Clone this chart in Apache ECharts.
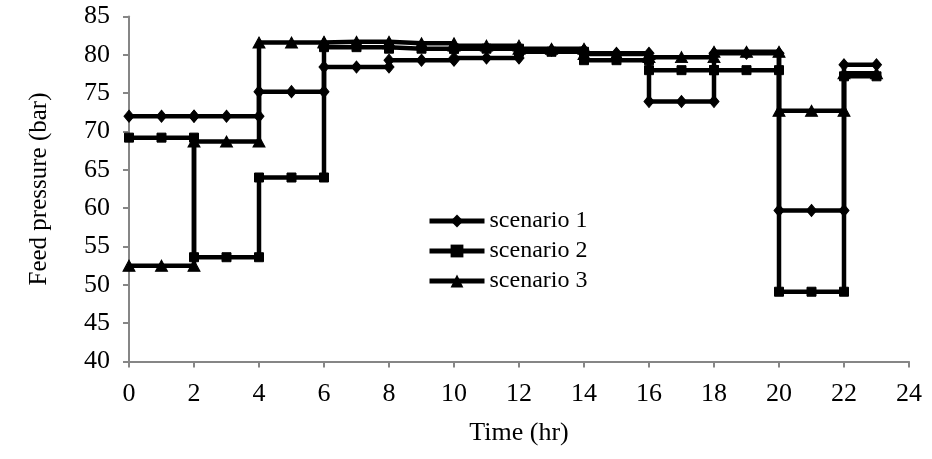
<!DOCTYPE html>
<html>
<head>
<meta charset="utf-8">
<script src="https://cdn.jsdelivr.net/npm/echarts@6/dist/echarts.min.js"></script>
<style>
  html, body { margin: 0; padding: 0; background: #fff; }
  #chart { width: 932px; height: 459px; }
</style>
</head>
<body>
<div id="chart"></div>
<script>
// Feed pressure held constant over 2-hour blocks; the last block runs 22-23 h.
const blockStart = [0, 2, 4, 6, 8, 10, 12, 14, 16, 18, 20, 22];
const endHour = 23;
const scenario1 = [72.0, 72.0, 75.2, 78.4, 79.3, 79.6, 80.6, 80.2, 73.9, 80.2, 59.7, 78.7];
const scenario2 = [69.2, 53.6, 64.0, 81.0, 80.8, 80.8, 80.4, 79.3, 78.0, 78.0, 49.1, 77.2];
const scenario3 = [52.5, 68.7, 81.6, 81.7, 81.5, 81.2, 80.8, 80.1, 79.7, 80.4, 72.7, 77.6];
const seriesNames = ['scenario 1', 'scenario 2', 'scenario 3'];
const xTicks = { min: 0, max: 24, interval: 2 };
const yTicks = { min: 40, max: 85, interval: 5 };

// Each block contributes a point at its start, its middle hour and its end,
// so the block boundaries become vertical risers.
function stepPoints(values) {
  const pts = [];
  values.forEach((v, i) => {
    const s = blockStart[i];
    const e = Math.min(s + 2, endHour);
    pts.push([s, v]);
    if (s + 1 < e) pts.push([s + 1, v]);
    pts.push([e, v]);
  });
  return pts;
}

const font = '"Liberation Serif", "Times New Roman", serif';
const axisGray = '#868686';

const symbols = ['diamond', 'rect', 'triangle'];
const symbolSizes = [[10, 12], 9, [12, 11]];
const allValues = [scenario1, scenario2, scenario3];

const chart = echarts.init(document.getElementById('chart'), null, { renderer: 'canvas' });
chart.setOption({
  animation: false,
  backgroundColor: '#fff',
  grid: { left: 129, right: 23, top: 16.5, bottom: 97.5, containLabel: false },
  legend: {
    orient: 'vertical',
    left: 422,
    top: 204,
    padding: 5,
    itemWidth: 55,
    itemHeight: 16,
    itemGap: 6,
    lineStyle: { width: 5 },
    textStyle: { fontFamily: font, fontSize: 24, color: '#000', lineHeight: 24 },
    data: seriesNames
  },
  xAxis: {
    type: 'value',
    min: xTicks.min, max: xTicks.max, interval: xTicks.interval,
    name: 'Time (hr)',
    nameLocation: 'middle',
    nameGap: 59,
    nameTextStyle: { fontFamily: font, fontSize: 26, color: '#000', verticalAlign: 'top' },
    axisLine: { show: true, lineStyle: { color: axisGray, width: 2 } },
    axisTick: { show: true, length: 6, lineStyle: { color: axisGray, width: 2 } },
    axisLabel: { fontFamily: font, fontSize: 26, color: '#000', margin: 20 },
    splitLine: { show: false }
  },
  yAxis: {
    type: 'value',
    min: yTicks.min, max: yTicks.max, interval: yTicks.interval,
    name: 'Feed pressure (bar)',
    nameLocation: 'middle',
    nameGap: 77,
    nameTextStyle: { fontFamily: font, fontSize: 25, color: '#000' },
    axisLine: { show: true, lineStyle: { color: axisGray, width: 2 } },
    axisTick: { show: true, length: 6, lineStyle: { color: axisGray, width: 2 } },
    axisLabel: { fontFamily: font, fontSize: 26, color: '#000', margin: 19 },
    splitLine: { show: false }
  },
  series: seriesNames.map((name, k) => ({
    name: name,
    type: 'line',
    data: stepPoints(allValues[k]),
    symbol: symbols[k],
    symbolSize: symbolSizes[k],
    showAllSymbol: true,
    lineStyle: { color: '#000', width: 4.5 },
    itemStyle: { color: '#000', borderColor: '#000' },
    emphasis: { disabled: true }
  }))
});
</script>
</body>
</html>
